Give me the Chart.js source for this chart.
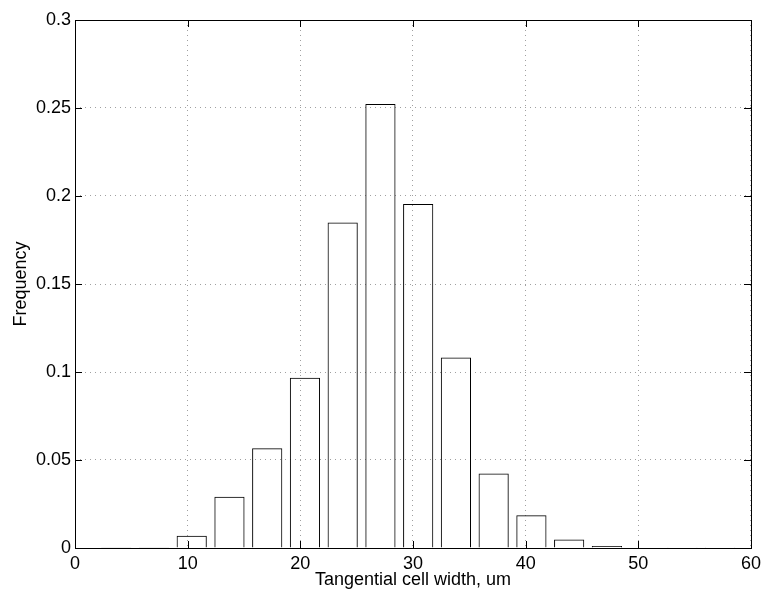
<!DOCTYPE html>
<html>
<head>
<meta charset="utf-8">
<script src="https://cdn.jsdelivr.net/npm/chart.js"></script>
<style>
    html, body { margin: 0; padding: 0; background: #fff; }
</style>
<title>Tangential cell width</title>
</head>
<body>
<canvas id="c1" width="766" height="594"></canvas>
<script>
"use strict";

// histogram bin centres (um) and the frequency
let binCentres = [3.66, 7.01, 10.36, 13.71, 17.06, 20.41, 23.76, 27.11, 30.46,
                  33.81, 37.16, 40.51, 43.86, 47.21, 50.56, 53.91, 57.26];
let frequency = [0.0004, 0.0002, 0.0070, 0.0291, 0.0567, 0.0968, 0.1850, 0.2523, 0.1955,
                 0.1083, 0.0424, 0.0186, 0.0049, 0.0011, 0.0003, 0.0001, 0.0001];

let xTicks = [0, 10, 20, 30, 40, 50, 60];
let yTicks = [0, 0.05, 0.1, 0.15, 0.2, 0.25, 0.3];

let fontFamily = "'Liberation Sans', Arial, Helvetica, sans-serif";

// box round the plot area with matlab style inward ticks on all four sides
let frameTicks = {
    id: "frameTicks",
    afterDatasetsDraw(chart) {
        let ctx = chart.ctx;
        let a = chart.chartArea;
        let x = chart.scales.x;
        let y = chart.scales.y;
        let len = 7;
        ctx.save();
        ctx.strokeStyle = "#000";
        ctx.lineWidth = 1;
        ctx.strokeRect(a.left + 0.5, a.top + 0.5, a.right - a.left, a.bottom - a.top);
        ctx.beginPath();
        x.ticks.forEach(t => {
            let px = Math.round(x.getPixelForValue(t.value)) + 0.5;
            ctx.moveTo(px, a.bottom);
            ctx.lineTo(px, a.bottom - len);
            ctx.moveTo(px, a.top);
            ctx.lineTo(px, a.top + len);
        });
        y.ticks.forEach(t => {
            let py = Math.round(y.getPixelForValue(t.value)) + 0.5;
            ctx.moveTo(a.left, py);
            ctx.lineTo(a.left + len, py);
            ctx.moveTo(a.right, py);
            ctx.lineTo(a.right - len, py);
        });
        ctx.stroke();
        ctx.restore();
    }
};

let params = {
    type: "bar",
    data: {
        datasets: [{
            data: binCentres.map((c, i) => ({ x: c, y: frequency[i] })),
            backgroundColor: "rgba(255,255,255,0)",
            borderColor: "#000",
            borderWidth: 1,
            borderSkipped: "start",
            barPercentage: 0.8,
            categoryPercentage: 1.0
        }]
    },
    options: {
        responsive: false,
        animation: false,
        devicePixelRatio: 1,
        layout: { padding: { left: 0, right: 14, top: 20, bottom: 0 } },
        plugins: {
            legend: { display: false },
            tooltip: { enabled: false }
        },
        scales: {
            x: {
                type: "linear",
                offset: false,
                min: 0,
                max: 60,
                afterBuildTicks: s => { s.ticks = xTicks.map(v => ({ value: v })); },
                afterFit: s => { s.height = 46; },
                grid: { offset: false, color: "#a0a0a0", lineWidth: 1, drawTicks: false },
                border: { display: false, dash: [1, 4] },
                ticks: {
                    padding: 5,
                    color: "#000",
                    maxRotation: 0,
                    font: { family: fontFamily, size: 18 },
                    callback: v => String(v)
                },
                title: {
                    display: true,
                    text: "Tangential cell width, um",
                    color: "#000",
                    font: { family: fontFamily, size: 18 },
                    padding: { top: 0, bottom: 3 }
                }
            },
            y: {
                min: 0,
                max: 0.3,
                afterBuildTicks: s => { s.ticks = yTicks.map(v => ({ value: v })); },
                afterFit: s => { s.width = 75; },
                grid: { color: "#a0a0a0", lineWidth: 1, drawTicks: false },
                border: { display: false, dash: [1, 4] },
                ticks: {
                    padding: 4,
                    color: "#000",
                    font: { family: fontFamily, size: 18 },
                    callback: v => String(v)
                },
                title: {
                    display: true,
                    text: "Frequency",
                    color: "#000",
                    font: { family: fontFamily, size: 18 },
                    padding: { top: 10, bottom: 0 }
                }
            }
        }
    },
    plugins: [frameTicks]
};

let chart1 = new Chart(document.querySelector("#c1"), params);
</script>
</body>
</html>
